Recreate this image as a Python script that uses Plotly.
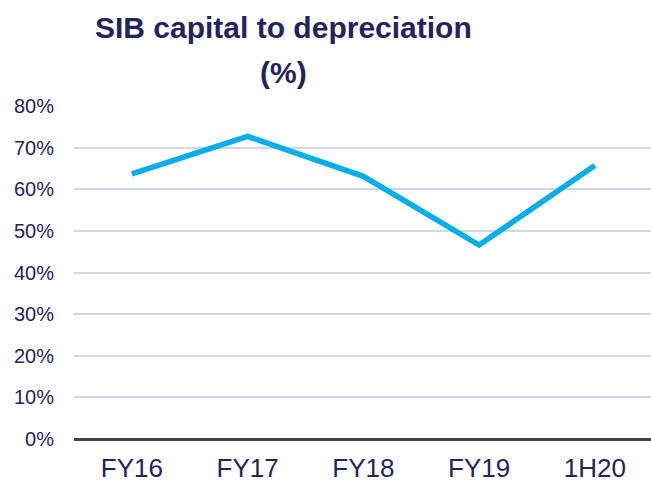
import plotly.graph_objects as go

categories = ["FY16", "FY17", "FY18", "FY19", "1H20"]
sib_capital_to_depreciation = [63.7, 72.7, 63.1, 46.6, 65.7]
y_tick_values = [0, 10, 20, 30, 40, 50, 60, 70, 80]
y_tick_labels = ["0%", "10%", "20%", "30%", "40%", "50%", "60%", "70%", "80%"]
title_lines = ["SIB capital to depreciation", "(%)"]

NAVY = "#25235E"
LINE = "#00AEEA"
FONT = "Liberation Sans, Arial, sans-serif"

fig = go.Figure()
fig.add_trace(go.Scatter(
    x=categories,
    y=sib_capital_to_depreciation,
    mode="lines",
    line=dict(color=LINE, width=5.5),
    showlegend=False,
))

fig.update_layout(
    template="none",
    width=651,
    height=482,
    margin=dict(l=74, r=0, t=106, b=43, autoexpand=False),
    paper_bgcolor="white",
    plot_bgcolor="white",
    xaxis=dict(
        type="category",
        range=[-0.5, 4.485],
        automargin=False,
        showgrid=False,
        showline=False,
        zeroline=False,
        ticks="",
        tickfont=dict(family=FONT, size=26, color=NAVY),
        ticklabelstandoff=11,
    ),
    yaxis=dict(
        range=[0, 80],
        automargin=False,
        tickmode="array",
        tickvals=y_tick_values,
        ticktext=y_tick_labels,
        showgrid=True,
        gridcolor="#CFD9E6",
        gridwidth=1.5,
        zeroline=True,
        zerolinecolor="#444444",
        zerolinewidth=2.5,
        showline=False,
        ticks="",
        tickfont=dict(family=FONT, size=20, color=NAVY),
        ticklabelstandoff=19,
    ),
)

title_baselines_px = [38, 83]
for text, base in zip(title_lines, title_baselines_px):
    fig.add_annotation(
        text="<b>" + text + "</b>",
        xref="paper", yref="paper",
        x=(283 - 74) / 577,
        y=(431 - base) / 333,
        xanchor="center", yanchor="bottom",
        showarrow=False,
        font=dict(family=FONT, size=30, color=NAVY),
    )

fig.write_html(
    "out.html",
    config={"displayModeBar": False},
    post_script="document.body.style.margin='0';document.body.style.overflow='hidden';",
)
